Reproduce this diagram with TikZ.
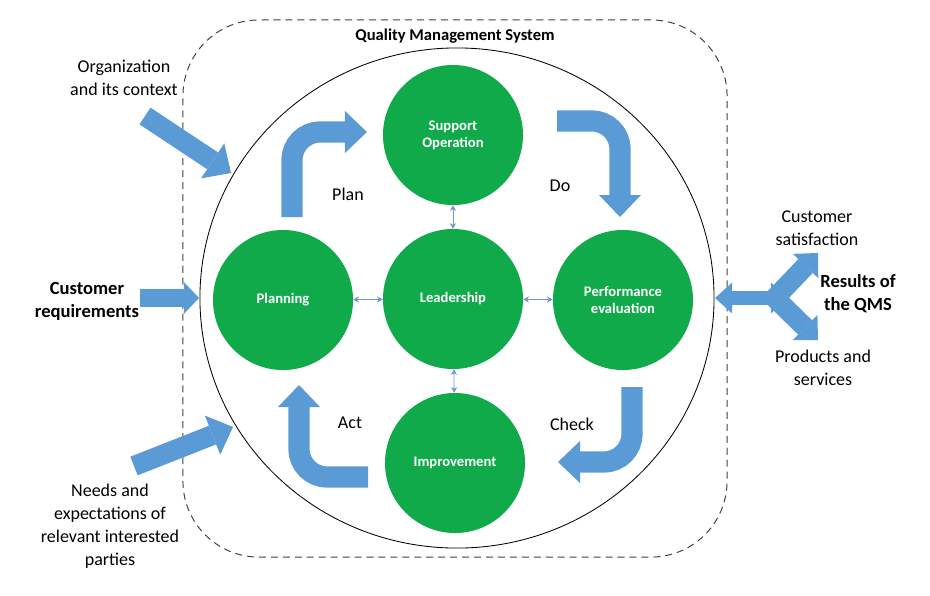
\documentclass[tikz,border=0pt]{standalone}
\usepackage{fontspec}
\setmainfont{Carlito}
\usepackage{xcolor}
\usetikzlibrary{arrows.meta,shapes.geometric}
\definecolor{qmsgreen}{RGB}{16,170,75}
\definecolor{qmsblue}{RGB}{91,155,213}
\definecolor{linkblue}{RGB}{115,150,205}

\begin{document}
\begin{tikzpicture}[x=0.025cm,y=-0.025cm,
    font=\fontsize{12.8}{16.3}\selectfont,
    proc/.style={circle,fill=qmsgreen,text=white,minimum size=3.5cm,inner sep=0pt,align=center,font=\fontsize{10.4}{12.2}\selectfont\bfseries},
    txt/.style={align=center,inner sep=1pt},
    qmsbox/.style={draw=black!75,dash pattern=on 5pt off 3.5pt,line width=0.7pt,rounded corners=1.9cm,minimum width=13.6cm,minimum height=13.425cm},
    link/.style={{Stealth[length=4pt,width=4.5pt]}-{Stealth[length=4pt,width=4.5pt]},linkblue,line width=0.6pt},
    bendarr/.style={qmsblue,line width=0.53cm,rounded corners=0.7cm,-{Triangle[length=0.55cm,width=1.05cm,line width=0pt]}},
    inarr/.style={qmsblue,line width=0.5cm,-{Triangle[length=0.55cm,width=1.05cm,line width=0pt]}},
  ]
    \useasboundingbox (0,0) rectangle (930,595);

    % system boundary and ring
    \node[qmsbox] (qms) at (455,288.5) {};
    \node[txt,font=\fontsize{11.8}{16}\selectfont\bfseries] (title) at (455,36) {Quality Management System};
    \node[draw,ellipse,line width=0.6pt,minimum width=12.85cm,minimum height=12.5cm,inner sep=0pt] (ring) at (457,298) {};

    % processes
    \node[proc] (sup) at (453,135) {Support\\Operation};
    \node[proc] (lead) at (453,299) {Leadership};
    \node[proc] (plan) at (283,300) {Planning};
    \node[proc] (perf) at (623,300) {Performance\\evaluation};
    \node[proc] (imp) at (455,463) {Improvement};

    \draw[link] (sup) -- (lead);
    \draw[link] (lead) -- (imp);
    \draw[link] (plan) -- (lead);
    \draw[link] (lead) -- (perf);

    % PDCA cycle
    \coordinate (planS) at (292,217);
    \coordinate (planE) at (367,132);
    \coordinate (doS) at (557,121);
    \coordinate (doE) at (620,217);
    \coordinate (chkS) at (632,387);
    \coordinate (chkE) at (558,462);
    \coordinate (actS) at (368,477);
    \coordinate (actE) at (299,385);
    \draw[bendarr] (planS) |- (planE);
    \draw[bendarr] (doS) -| (doE);
    \draw[bendarr] (chkS) |- (chkE);
    \draw[bendarr] (actS) -| (actE);

    \node[txt] (planlbl) at (348,194) {Plan};
    \node[txt] (dolbl) at (560,186) {Do};
    \node[txt] (chklbl) at (572,424) {Check};
    \node[txt] (actlbl) at (350,423) {Act};

    % inputs
    \node[txt] (org) at (124,78) {Organization\\and its context};
    \node[txt,font=\fontsize{13.2}{16.3}\selectfont\bfseries] (req) at (87,301) {Customer\\requirements};
    \node[txt] (needs) at (110,526) {Needs and\\expectations of\\relevant interested\\parties};

    \coordinate (orgS) at (145,116);
    \coordinate (orgE) at (231,173);
    \coordinate (reqS) at (140,298);
    \coordinate (reqE) at (199,298);
    \coordinate (needS) at (134,466);
    \coordinate (needE) at (233,427);
    \draw[inarr] (orgS) -- (orgE);
    \draw[inarr,line width=0.45cm,-{Triangle[length=0.38cm,width=0.8cm,line width=0pt]}] (reqS) -- (reqE);
    \draw[inarr] (needS) -- (needE);

    % outputs
    \node[txt] (sat) at (817,228) {Customer\\satisfaction};
    \node[txt,font=\fontsize{13.2}{16.3}\selectfont\bfseries] (res) at (858,294) {Results of\\the QMS};
    \node[txt] (prod) at (823,368) {Products and\\services};

    \coordinate (junc) at (775,298);
    \coordinate (satE) at (818,253);
    \coordinate (prodE) at (818,340);
    \coordinate (outW) at (715,298);
    \coordinate (outE) at (788,298);
    \draw[inarr,-{Triangle[length=0.45cm,width=0.88cm,line width=0pt]}] (junc) -- (satE);
    \draw[inarr,-{Triangle[length=0.45cm,width=0.88cm,line width=0pt]}] (junc) -- (prodE);
    \draw[qmsblue,line width=0.36cm,{Triangle[length=0.43cm,width=0.78cm,line width=0pt]}-{Triangle[length=0.43cm,width=0.78cm,line width=0pt]}] (outW) -- (outE);
\end{tikzpicture}
\end{document}
